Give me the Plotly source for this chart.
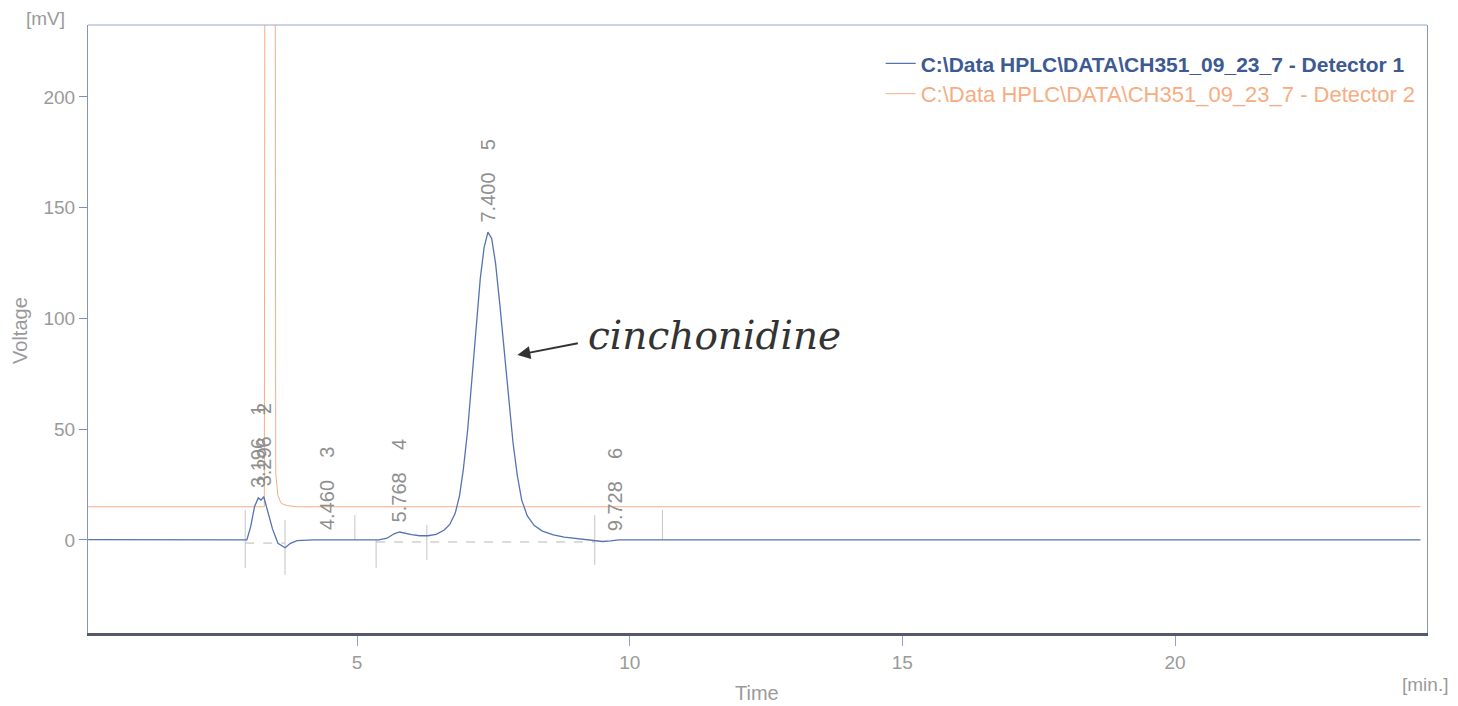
import plotly.graph_objects as go

# ---- data ----
det1_time = [0.07, 2.98, 3.05, 3.12, 3.19, 3.24, 3.29, 3.36, 3.45, 3.55, 3.68, 3.78, 3.9, 4.2,
             5.4, 5.55, 5.68, 5.78, 5.88, 6.0, 6.15, 6.3, 6.45, 6.6, 6.7, 6.8, 6.88, 6.95,
             7.03, 7.1, 7.18, 7.26, 7.33, 7.4, 7.47, 7.54, 7.62, 7.7, 7.78, 7.86, 7.94, 8.02,
             8.12, 8.25, 8.4, 8.6, 8.8, 9.0, 9.2, 9.35, 9.5, 9.65, 9.8, 10.5, 24.5]
det1_mv = [0.2, 0.0, 6, 15, 19, 18, 19.5, 13, 5, -1.5, -3.5, -1.5, -0.3, 0.0,
           0.0, 0.8, 2.8, 3.6, 3.0, 2.4, 1.9, 1.9, 2.5, 4.5, 7, 12, 20, 32,
           50, 72, 96, 118, 132, 139, 136, 125, 106, 85, 63, 44, 29, 18,
           11, 6.5, 4, 2.3, 1.3, 0.7, 0.2, -0.5, -0.7, -0.4, 0.0, 0.0, 0.0]

det2_time = [0.07, 3.30, 3.31, 3.50, 3.51, 3.55, 3.61, 3.72, 3.9, 24.5]
det2_mv = [15, 15, 260, 260, 30, 20, 16.5, 15.5, 15, 15]

peak_no = ["1", "2", "3", "4", "5", "6"]
peak_rt = [3.196, 3.296, 4.460, 5.768, 7.400, 9.728]
peak_label_y = [19, 19.5, 0.0, 3.6, 139, -0.4]

# integration delimiters (time, low mV, high mV)
delim_t = [2.95, 3.68, 4.96, 5.35, 6.28, 9.36, 10.6]
delim_lo = [-12.6, -15.8, 0.0, -12.6, -9.0, -11.3, 0.0]
delim_hi = [13.5, 9.0, 11.3, 0.0, 6.8, 11.3, 13.5]

# dashed baselines (start t, end t, level mV)
base_t0 = [2.95, 5.35]
base_t1 = [3.68, 9.36]
base_mv = [-1.4, -0.9]

x_ticks = [5, 10, 15, 20]
y_ticks = [0, 50, 100, 150, 200]

name1 = r"C:\Data HPLC\DATA\CH351_09_23_7 - Detector 1"
name2 = r"C:\Data HPLC\DATA\CH351_09_23_7 - Detector 2"

GRAY = "#9a9a9a"
BLUE = "#5573b2"
ORANGE = "#f7ad82"
FONT = "Liberation Sans, Arial, sans-serif"

fig = go.Figure()

# delimiter ticks
dx, dy = [], []
for t, lo, hi in zip(delim_t, delim_lo, delim_hi):
    dx += [t, t, None]
    dy += [lo, hi, None]
fig.add_trace(go.Scatter(x=dx, y=dy, mode="lines", line=dict(color="#c4c4c4", width=1),
                         showlegend=False, hoverinfo="skip"))
bx, by = [], []
for a, b, v in zip(base_t0, base_t1, base_mv):
    bx += [a, b, None]
    by += [v, v, None]
fig.add_trace(go.Scatter(x=bx, y=by, mode="lines", line=dict(color="#b8b8b8", width=1, dash="dash"),
                         showlegend=False, hoverinfo="skip"))

fig.add_trace(go.Scatter(x=det2_time, y=det2_mv, mode="lines",
                         line=dict(color=ORANGE, width=1),
                         name=f"<span style='color:{ORANGE};font-size:22px'>{name2}</span>",
                         legendrank=2, legendgroup="b"))
fig.add_trace(go.Scatter(x=det1_time, y=det1_mv, mode="lines",
                         line=dict(color=BLUE, width=1.3),
                         name=f"<b><span style='color:#3d5a92'>{name1}</span></b>",
                         legendrank=1, legendgroup="a"))

# peak labels
for n, rt, yv in zip(peak_no, peak_rt, peak_label_y):
    fig.add_annotation(x=rt, y=yv, text=f"{rt:.3f}" + "\u00a0" * 4 + n,
                       textangle=-90, showarrow=False, xanchor="center", yanchor="bottom",
                       yshift=8, font=dict(family=FONT, size=20, color="#8f8f8f"))

# handwritten note
fig.add_annotation(x=7.94, y=83.5, ax=62, ay=-12, text="", showarrow=True,
                   arrowhead=2, arrowsize=1.3, arrowwidth=2, arrowcolor="#333333")
fig.add_annotation(x=11.55, y=92.5, text="<i>cinchonidine</i>", showarrow=False,
                   xanchor="center", yanchor="middle",
                   font=dict(family="DejaVu Serif", size=39, color="#333333"))

# axis units / titles
fig.add_annotation(xref="paper", yref="paper", x=-0.0321, y=1.0115, text="[mV]", showarrow=False,
                   xanchor="center", yanchor="middle",
                   font=dict(family=FONT, size=19, color=GRAY))
fig.add_annotation(xref="paper", yref="paper", x=0.9985, y=-0.0839, text="[min.]", showarrow=False,
                   xanchor="center", yanchor="middle",
                   font=dict(family=FONT, size=19, color=GRAY))
fig.add_annotation(xref="paper", yref="paper", x=0.4996, y=-0.0987, text="Time", showarrow=False,
                   xanchor="center", yanchor="middle",
                   font=dict(family=FONT, size=20, color=GRAY))
fig.add_annotation(xref="paper", yref="paper", x=-0.0508, y=0.4984, text="Voltage", showarrow=False,
                   xanchor="center", yanchor="middle",
                   textangle=-90, font=dict(family=FONT, size=20, color=GRAY))

# top frame line
fig.add_shape(type="line", xref="paper", yref="paper", x0=0, x1=1, y0=1, y1=1,
              line=dict(color="#9aa6cc", width=1))

fig.update_layout(
    width=1458, height=706,
    margin=dict(l=88, r=31, t=25, b=73),
    paper_bgcolor="white", plot_bgcolor="white",
    font=dict(family=FONT, color=GRAY),
    legend=dict(x=0.592, y=0.97, xanchor="left", yanchor="top",
                font=dict(family=FONT, size=21), bgcolor="rgba(0,0,0,0)",
                traceorder="normal", tracegroupgap=4),
    xaxis=dict(range=[0.067, 24.62], tickvals=x_ticks, ticks="outside", ticklen=10,
               tickcolor="#8fa3d0", showgrid=False, zeroline=False,
               showline=True, linecolor="#555a66", linewidth=2.5,
               tickfont=dict(family=FONT, size=19, color=GRAY)),
    yaxis=dict(range=[-42, 232.5], tickvals=y_ticks, ticks="outside", ticklen=8,
               tickcolor="#7f8fb8", showgrid=False, zeroline=False,
               showline=True, mirror=True, linecolor="#8294c4", linewidth=1.2,
               tickfont=dict(family=FONT, size=19, color=GRAY)),
    showlegend=True,
)

# remove the default 8px page margin so the figure fills the window exactly
fig.write_html("out.html", config={"displayModeBar": False},
               post_script="document.body.style.margin='0px';document.body.style.overflow='hidden';")
